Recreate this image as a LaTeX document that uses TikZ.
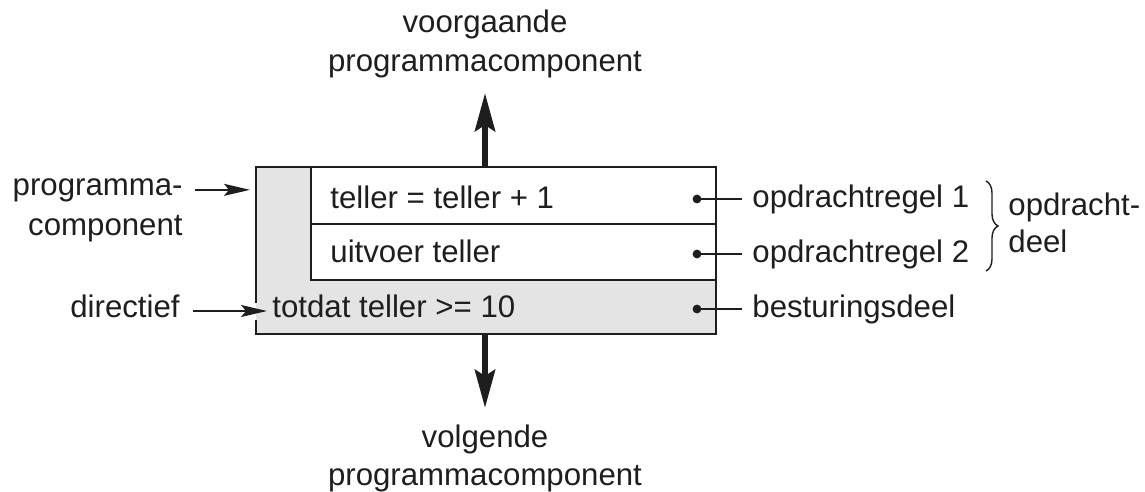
\documentclass[tikz,border=0pt]{standalone}
\usepackage{fontspec}
\setmainfont{Liberation Sans}
\usetikzlibrary{arrows.meta,decorations.pathreplacing}
\definecolor{boxgray}{HTML}{E4E4E4}
\definecolor{ink}{HTML}{1E1E1E}
\newcommand\lbfont{\fontsize{15.6}{19}\selectfont}
\tikzset{
  lbl/.style={font=\lbfont, text=ink, inner sep=0pt, anchor=base west},
  thinarrow/.style={line width=0.8pt, draw=ink, -{Stealth[length=13pt,width=6pt,inset=2.5pt]}},
  bigarrow/.style={line width=3.2pt, draw=ink, -{Stealth[length=19pt,width=10pt,inset=3pt]}},
  leader/.style={line width=0.8pt, draw=ink},
  dotmark/.style={circle, fill=ink, inner sep=0pt, minimum size=4.4pt},
  border/.style={line width=1pt, draw=ink},
}
\begin{document}
\begin{tikzpicture}[x=0.5pt,y=-0.5pt]
\useasboundingbox (0,0) rectangle (1145,492);
% box
\fill[boxgray] (256,167) rectangle (716,334);
\fill[white] (311,167) rectangle (716,280);
\draw[border] (311,167) -- (311,280) -- (716,280);
\draw[border] (311,224) -- (716,224);
\draw[border] (256,303) -- (256,167) -- (716,167) -- (716,334) -- (256,334) -- (256,320);
\coordinate (boxL) at (256,0);
\coordinate (boxtop) at (485,167);
\coordinate (boxbot) at (485,334);
\coordinate (uptip) at (485,93);
\coordinate (downtip) at (485,408);
% rows
\node[lbl] (r1) at (330,208) {teller = teller + 1};
\node[lbl] (r2) at (330,262) {uitvoer teller};
\node[lbl] (r3) at (272,317) {totdat teller >= 10};
% dots and right labels
\node[dotmark] (d1) at (697,199) {};
\node[dotmark] (d2) at (697,254) {};
\node[dotmark] (d3) at (697,309) {};
\node[lbl] (o1) at (752,207) {opdrachtregel 1};
\node[lbl] (o2) at (752,262) {opdrachtregel 2};
\node[lbl] (bd) at (752,317) {besturingsdeel};
\draw[leader] (d1.center) -- ([xshift=-5pt]d1 -| o1.west);
\draw[leader] (d2.center) -- ([xshift=-5pt]d2 -| o2.west);
\draw[leader] (d3.center) -- ([xshift=-5pt]d3 -| bd.west);
% brace
\coordinate (brT) at (986,181);
\coordinate (brB) at (986,271);
\draw[line width=0.7pt, draw=ink, decorate, decoration={brace, amplitude=6pt}] (brT) -- (brB);
\node[lbl] (od1) at (1008,215) {opdracht-};
\node[lbl] (od2) at (1008,252) {deel};
% left labels
\node[lbl, anchor=base east] (pc1) at (183,195) {programma-};
\node[lbl, anchor=base east] (pc2) at (183,235) {component};
\draw[thinarrow] ([xshift=6pt]pc1.east) -- ([xshift=-3pt]pc1.east -| boxL);
\node[lbl, anchor=base east] (dir) at (180,317) {directief};
\draw[thinarrow] ([shift={(13,-6)}]dir.base east) -- ([shift={(-5,-6)}]r3.base west);
% top and bottom
\node[lbl, anchor=base] (prev1) at (485,33) {voorgaande};
\node[lbl, anchor=base] (prev2) at (485,72) {programmacomponent};
\node[lbl, anchor=base] (next1) at (485,447) {volgende};
\node[lbl, anchor=base] (next2) at (485,485) {programmacomponent};
\draw[bigarrow] (boxtop) -- (uptip);
\draw[bigarrow] (boxbot) -- (downtip);
\end{tikzpicture}
\end{document}
